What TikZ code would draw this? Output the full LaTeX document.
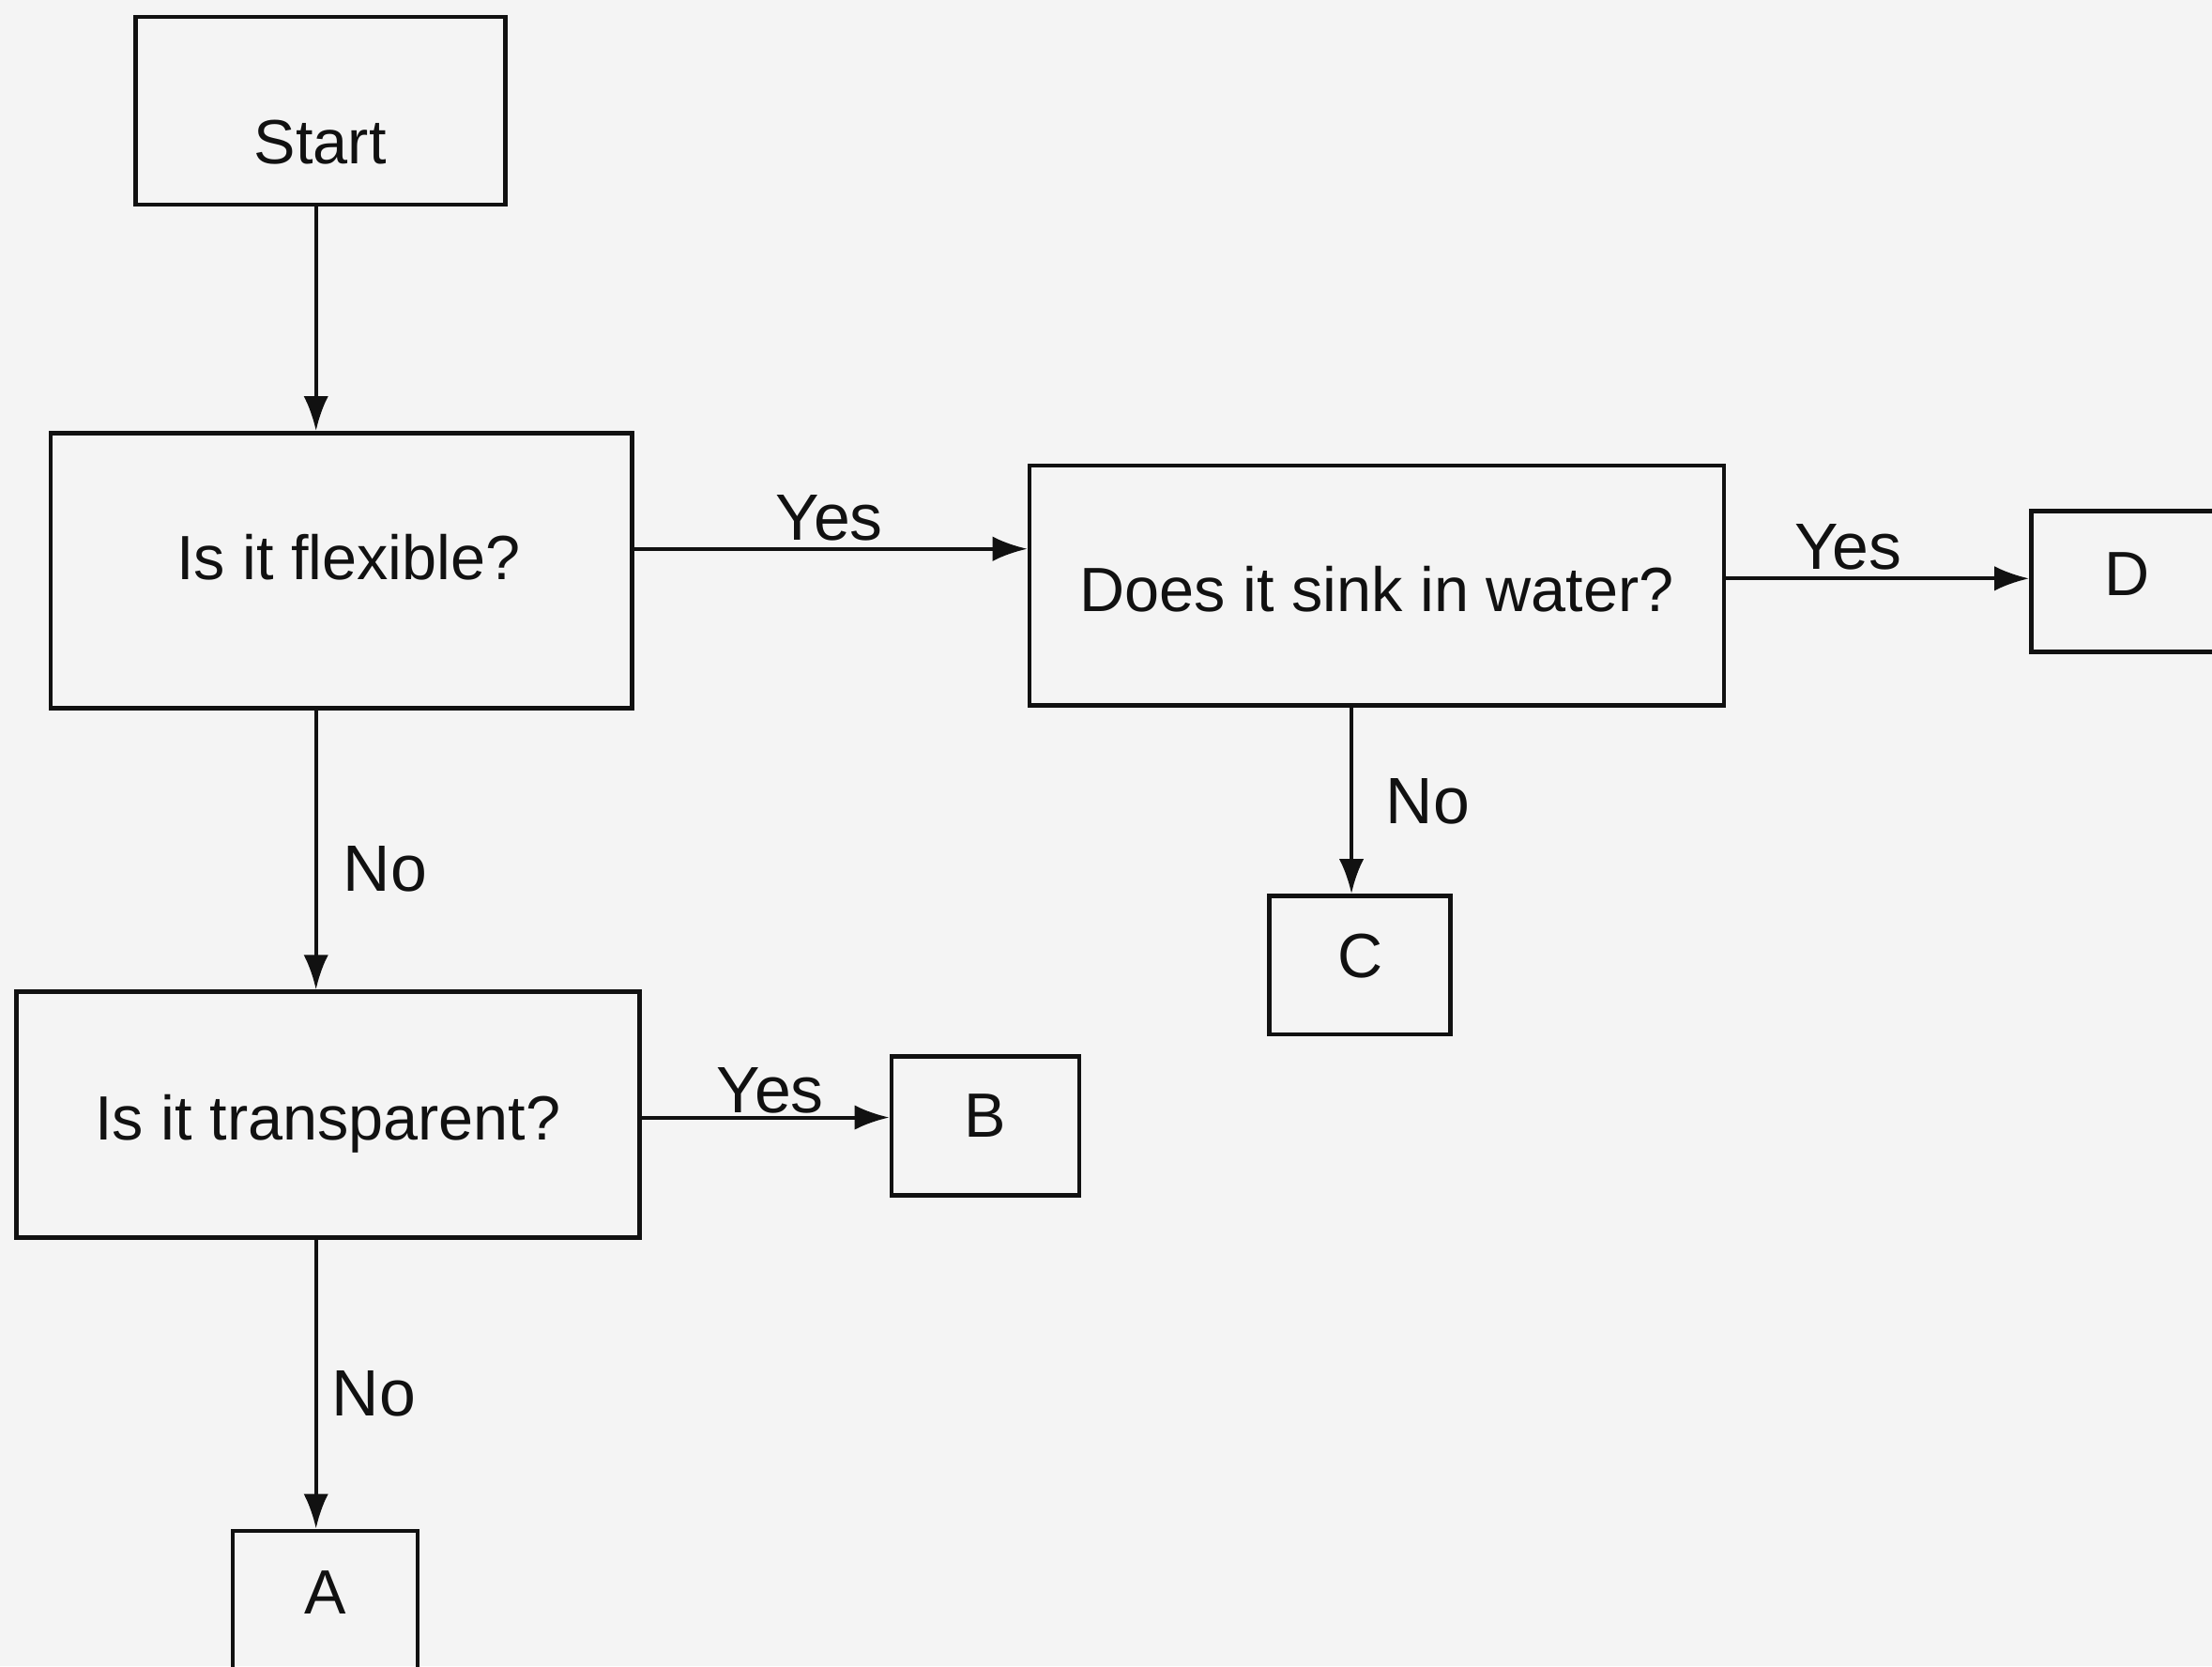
\documentclass[tikz,border=0pt]{standalone}
\usepackage{fontspec}
\setmainfont{Liberation Sans}
\usetikzlibrary{arrows.meta}
\definecolor{paper}{RGB}{244,244,244}
\definecolor{ink}{RGB}{17,17,17}
\newcommand{\mvtext}[2]{\raisebox{#1}[0pt][0pt]{#2}}
\begin{document}
\begin{tikzpicture}[x=0.01cm,y=-0.01cm,
  every node/.style={text=ink},
  box/.style={draw=ink, line width=0.9pt, rectangle, inner sep=0pt, font=\fontsize{12.6pt}{15pt}\selectfont},
  arr/.style={draw=ink, line width=0.75pt, -{Latex[length=7pt,width=5pt]}},
  lab/.style={inner sep=0pt, font=\fontsize{13.2pt}{15pt}\selectfont}]
\fill[paper] (0,0) rectangle (1568,1181);
\useasboundingbox (0,0) rectangle (1568,1181);
\clip (0,0) rectangle (1568,1181);

\node[box, minimum width=2.62cm, minimum height=1.33cm] (start) at (227,78.5) {\mvtext{-10.6pt}{Start}};
\node[box, minimum width=4.12cm, minimum height=1.95cm] (flex) at (242,404.5) {\hspace{0.1cm}\mvtext{-1.8pt}{Is it flexible?}};
\node[box, minimum width=4.92cm, minimum height=1.70cm] (sink) at (976,415) {\mvtext{-5.3pt}{Does it sink in water?}\hspace{0.3cm}};
\node[box, minimum width=1.36cm, minimum height=1.00cm] (D) at (1508,412) {\mvtext{-2.8pt}{D}};
\node[box, minimum width=1.28cm, minimum height=0.98cm] (C) at (964,684) {\mvtext{-2.5pt}{C}};
\node[box, minimum width=4.41cm, minimum height=1.74cm] (trans) at (232.5,790) {\mvtext{-5.1pt}{Is it transparent?}};
\node[box, minimum width=1.33cm, minimum height=0.98cm] (B) at (698.5,798) {\mvtext{-2.2pt}{B}};
\node[box, minimum width=1.31cm, minimum height=0.98cm] (A) at (230.5,1134) {\mvtext{-2.8pt}{A}};

\draw[arr] ([xshift=-0.03cm]start.south) coordinate (s0) -- (s0 |- flex.north);
\draw[arr] ([yshift=0.155cm]flex.east) coordinate (f1) -- (f1 -| sink.west);
\node[lab] (yes1) at (588,367) {Yes};
\draw[arr] ([yshift=0.05cm]sink.east) coordinate (s1) -- (s1 -| D.west);
\node[lab] (yes2) at (1310,388) {Yes};
\draw[arr] ([xshift=-0.06cm]sink.south -| C.north) coordinate (s2) -- (s2 |- C.north);
\node[lab] (no1) at (1012,568) {No};
\draw[arr] ([xshift=-0.18cm]flex.south) coordinate (f2) -- (f2 |- trans.north);
\node[lab] (no2) at (273,616) {No};
\draw[arr] ([yshift=-0.02cm]trans.east) coordinate (t1) -- (t1 -| B.west);
\node[lab] (yes3) at (546,773) {Yes};
\draw[arr] ([xshift=-0.085cm]trans.south) coordinate (t2) -- (t2 |- A.north);
\node[lab] (no3) at (265,988) {No};
\end{tikzpicture}
\end{document}
